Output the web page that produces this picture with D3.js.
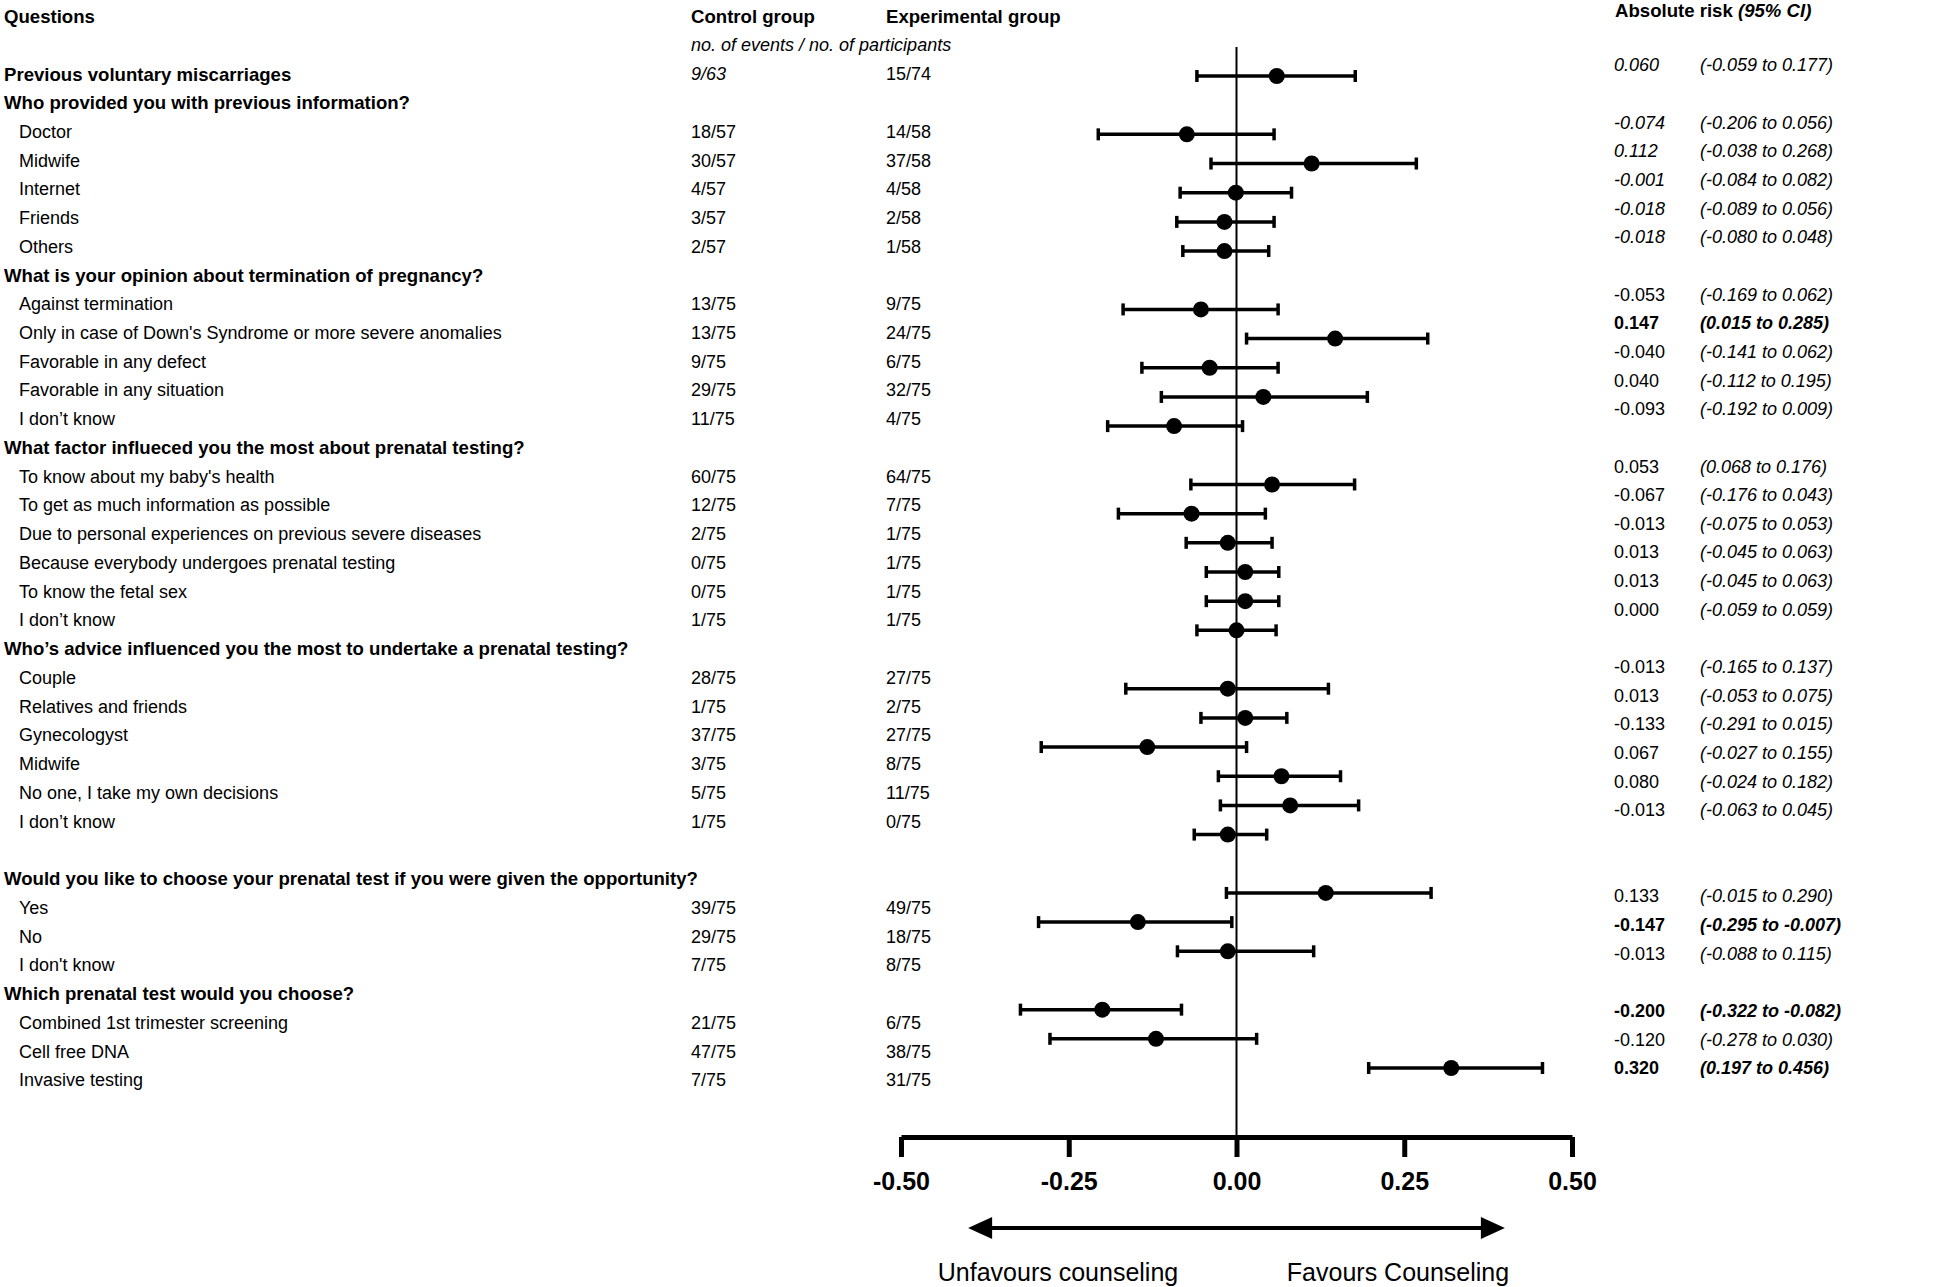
<!DOCTYPE html>
<html>
<head>
<meta charset="utf-8">
<script src="https://cdn.jsdelivr.net/npm/d3@7"></script>
<style>
  body { margin: 0; background: #fff; }
  svg { display: block; font-family: "Liberation Sans", Arial, sans-serif; }
</style>
</head>
<body>
<div id="container"></div>
<script>
/* DATA */
const labels = [
  "Previous voluntary miscarriages",
  "Who provided you with previous information?",
  "Doctor", "Midwife", "Internet", "Friends", "Others",
  "What is your opinion about termination of pregnancy?",
  "Against termination",
  "Only in case of Down's Syndrome or more severe anomalies",
  "Favorable in any defect", "Favorable in any situation", "I don\u2019t know",
  "What factor influeced you the most about prenatal testing?",
  "To know about my baby's health", "To get as much information as possible",
  "Due to personal experiences on previous severe diseases",
  "Because everybody undergoes prenatal testing", "To know the fetal sex", "I don\u2019t know",
  "Who\u2019s advice influenced you the most to undertake a prenatal testing?",
  "Couple", "Relatives and friends", "Gynecologyst", "Midwife",
  "No one, I take my own decisions", "I don\u2019t know",
  "Would you like to choose your prenatal test if you were given the opportunity?",
  "Yes", "No", "I don't know",
  "Which prenatal test would you choose?",
  "Combined 1st trimester screening", "Cell free DNA", "Invasive testing"
];
const headerRows = [0, 1, 7, 13, 20, 27, 31];

const controlGroup = [
  "9/63", "", "18/57", "30/57", "4/57", "3/57", "2/57",
  "", "13/75", "13/75", "9/75", "29/75", "11/75",
  "", "60/75", "12/75", "2/75", "0/75", "0/75", "1/75",
  "", "28/75", "1/75", "37/75", "3/75", "5/75", "1/75",
  "", "39/75", "29/75", "7/75",
  "", "21/75", "47/75", "7/75"
];
const experimentalGroup = [
  "15/74", "", "14/58", "37/58", "4/58", "2/58", "1/58",
  "", "9/75", "24/75", "6/75", "32/75", "4/75",
  "", "64/75", "7/75", "1/75", "1/75", "1/75", "1/75",
  "", "27/75", "2/75", "27/75", "8/75", "11/75", "0/75",
  "", "49/75", "18/75", "8/75",
  "", "6/75", "38/75", "31/75"
];

// absolute risk and 95% CI (plotted)
const estimate = [
  0.060, null, -0.074, 0.112, -0.001, -0.018, -0.018,
  null, -0.053, 0.147, -0.040, 0.040, -0.093,
  null, 0.053, -0.067, -0.013, 0.013, 0.013, 0.000,
  null, -0.013, 0.013, -0.133, 0.067, 0.080, -0.013,
  null, 0.133, -0.147, -0.013,
  null, -0.200, -0.120, 0.320
];
const lower = [
  -0.059, null, -0.206, -0.038, -0.084, -0.089, -0.080,
  null, -0.169, 0.015, -0.141, -0.112, -0.192,
  null, -0.068, -0.176, -0.075, -0.045, -0.045, -0.059,
  null, -0.165, -0.053, -0.291, -0.027, -0.024, -0.063,
  null, -0.015, -0.295, -0.088,
  null, -0.322, -0.278, 0.197
];
const upper = [
  0.177, null, 0.056, 0.268, 0.082, 0.056, 0.048,
  null, 0.062, 0.285, 0.062, 0.195, 0.009,
  null, 0.176, 0.043, 0.053, 0.063, 0.063, 0.059,
  null, 0.137, 0.075, 0.015, 0.155, 0.182, 0.045,
  null, 0.290, -0.007, 0.115,
  null, -0.082, 0.030, 0.456
];

// right column text as printed
const riskText = [
  "0.060", "", "-0.074", "0.112", "-0.001", "-0.018", "-0.018",
  "", "-0.053", "0.147", "-0.040", "0.040", "-0.093",
  "", "0.053", "-0.067", "-0.013", "0.013", "0.013", "0.000",
  "", "-0.013", "0.013", "-0.133", "0.067", "0.080", "-0.013",
  "", "0.133", "-0.147", "-0.013",
  "", "-0.200", "-0.120", "0.320"
];
const ciText = [
  "(-0.059 to 0.177)", "", "(-0.206 to 0.056)", "(-0.038 to 0.268)", "(-0.084 to 0.082)",
  "(-0.089 to 0.056)", "(-0.080 to 0.048)",
  "", "(-0.169 to 0.062)", "(0.015 to 0.285)", "(-0.141 to 0.062)", "(-0.112 to 0.195)",
  "(-0.192 to 0.009)",
  "", "(0.068 to 0.176)", "(-0.176 to 0.043)", "(-0.075 to 0.053)", "(-0.045 to 0.063)",
  "(-0.045 to 0.063)", "(-0.059 to 0.059)",
  "", "(-0.165 to 0.137)", "(-0.053 to 0.075)", "(-0.291 to 0.015)", "(-0.027 to 0.155)",
  "(-0.024 to 0.182)", "(-0.063 to 0.045)",
  "", "(-0.015 to 0.290)", "(-0.295 to -0.007)", "(-0.088 to 0.115)",
  "", "(-0.322 to -0.082)", "(-0.278 to 0.030)", "(0.197 to 0.456)"
];
const boldRows = [9, 29, 32, 34];
const italicRiskRows = [0, 2, 3, 4, 5, 6];

const tickValues = [-0.5, -0.25, 0, 0.25, 0.5];

/* CONSTANTS */
const width = 1950;
const height = 1287;
const gapBefore = 27;   // blank line in the table before this row
const axisY = 1137;
const boldSize = 18.6;

const rows = labels.map((label, i) => ({
  i,
  t: i + (i >= gapBefore ? 1 : 0),
  label,
  header: headerRows.includes(i),
  control: controlGroup[i],
  experimental: experimentalGroup[i],
  est: estimate[i], lo: lower[i], hi: upper[i],
  risk: riskText[i], ci: ciText[i],
  bold: boldRows.includes(i),
  italicRisk: italicRiskRows.includes(i)
}));

/* SCALES */
const x = d3.scaleLinear().domain([-0.5, 0.5]).range([901, 1572]);
const yText = d3.scaleLinear().domain([0, 35]).range([74, 1080]);    // left table
const yRisk = d3.scaleLinear().domain([0, 35]).range([65, 1068]);    // right table
const yPoint = d3.scaleLinear().domain([0, 34]).range([76, 1068]);   // forest marks

/* SVG */
const svg = d3.select("#container")
  .append("svg")
    .attr("width", width)
    .attr("height", height);

// column headers
const head = svg.append("g").attr("font-size", 18);
head.append("text").attr("x", 4).attr("y", 16).attr("dy", "0.35em")
  .attr("font-weight", "bold").attr("font-size", boldSize).text("Questions");
head.append("text").attr("x", 691).attr("y", 16).attr("dy", "0.35em")
  .attr("font-weight", "bold").attr("font-size", boldSize).text("Control group");
head.append("text").attr("x", 886).attr("y", 16).attr("dy", "0.35em")
  .attr("font-weight", "bold").attr("font-size", boldSize).text("Experimental group");
head.append("text").attr("x", 691).attr("y", 45).attr("dy", "0.35em")
  .attr("font-style", "italic").text("no. of events / no. of participants");
const arHead = head.append("text").attr("x", 1615).attr("y", 10).attr("dy", "0.35em")
  .attr("font-weight", "bold").attr("font-size", boldSize);
arHead.append("tspan").text("Absolute risk  ");
arHead.append("tspan").attr("font-style", "italic").text("(95% CI)");

// left table
const table = svg.append("g").attr("font-size", 18);
table.selectAll("text.q")
  .data(rows)
  .join("text")
    .attr("class", "q")
    .attr("x", d => d.header ? 4 : 19)
    .attr("y", d => yText(d.t))
    .attr("dy", "0.35em")
    .attr("font-weight", d => d.header ? "bold" : "normal")
    .attr("font-size", d => d.header ? boldSize : 18)
    .text(d => d.label);

table.selectAll("text.ctrl")
  .data(rows.filter(d => d.control))
  .join("text")
    .attr("class", "ctrl")
    .attr("x", 691)
    .attr("y", d => yText(d.t))
    .attr("dy", "0.35em")
    .attr("font-style", d => d.i === 0 ? "italic" : "normal")
    .text(d => d.control);

table.selectAll("text.exp")
  .data(rows.filter(d => d.experimental))
  .join("text")
    .attr("class", "exp")
    .attr("x", 886)
    .attr("y", d => yText(d.t))
    .attr("dy", "0.35em")
    .text(d => d.experimental);

// right table
const right = svg.append("g").attr("font-size", 18);
right.selectAll("text.ar")
  .data(rows.filter(d => d.risk))
  .join("text")
    .attr("class", "ar")
    .attr("x", 1614)
    .attr("y", d => yRisk(d.t))
    .attr("dy", "0.35em")
    .attr("font-weight", d => d.bold ? "bold" : "normal")
    .attr("font-style", d => d.italicRisk ? "italic" : "normal")
    .text(d => d.risk);

right.selectAll("text.ci")
  .data(rows.filter(d => d.ci))
  .join("text")
    .attr("class", "ci")
    .attr("x", 1700)
    .attr("y", d => yRisk(d.t))
    .attr("dy", "0.35em")
    .attr("font-weight", d => d.bold ? "bold" : "normal")
    .attr("font-style", "italic")
    .text(d => d.ci);

// zero line
svg.append("line")
  .attr("x1", x(0)).attr("x2", x(0))
  .attr("y1", 47).attr("y2", axisY)
  .attr("stroke", "#000")
  .attr("stroke-width", 2);

// forest marks
const marks = svg.append("g")
  .selectAll("g")
  .data(rows.filter(d => d.est !== null))
  .join("g")
    .attr("transform", d => `translate(0,${yPoint(d.i)})`);

marks.append("line")
  .attr("x1", d => x(d.lo)).attr("x2", d => x(d.hi))
  .attr("stroke", "#000").attr("stroke-width", 3.5);
marks.append("line")
  .attr("x1", d => x(d.lo)).attr("x2", d => x(d.lo))
  .attr("y1", -6).attr("y2", 6)
  .attr("stroke", "#000").attr("stroke-width", 3.5);
marks.append("line")
  .attr("x1", d => x(d.hi)).attr("x2", d => x(d.hi))
  .attr("y1", -6).attr("y2", 6)
  .attr("stroke", "#000").attr("stroke-width", 3.5);
marks.append("circle")
  .attr("cx", d => x(d.est))
  .attr("r", 8)
  .attr("fill", "#000");

// x axis
const axis = svg.append("g")
  .attr("transform", `translate(0,${axisY})`)
  .call(d3.axisBottom(x)
    .tickValues(tickValues)
    .tickFormat(d => d.toFixed(2))
    .tickSize(20)
    .tickSizeOuter(0)
    .tickPadding(15));
axis.select(".domain").attr("stroke-width", 5);
axis.selectAll(".tick line").attr("stroke-width", 5);
axis.selectAll(".tick text")
  .attr("font-family", "'Liberation Sans', Arial, sans-serif")
  .attr("font-size", 25)
  .attr("font-weight", "bold")
  .attr("fill", "#000");

// direction arrow
const arrowY = 1228;
const head_len = 24, head_half = 11;
const ax0 = x(-0.4), ax1 = x(0.4);
svg.append("line")
  .attr("x1", ax0 + head_len - 2).attr("x2", ax1 - head_len + 2)
  .attr("y1", arrowY).attr("y2", arrowY)
  .attr("stroke", "#000").attr("stroke-width", 4);
svg.append("path")
  .attr("d", `M${ax0},${arrowY}L${ax0 + head_len},${arrowY - head_half}L${ax0 + head_len},${arrowY + head_half}Z`)
  .attr("fill", "#000");
svg.append("path")
  .attr("d", `M${ax1},${arrowY}L${ax1 - head_len},${arrowY - head_half}L${ax1 - head_len},${arrowY + head_half}Z`)
  .attr("fill", "#000");

svg.append("text")
  .attr("x", 1058).attr("y", 1272).attr("dy", "0.35em")
  .attr("text-anchor", "middle").attr("font-size", 25)
  .text("Unfavours counseling");
svg.append("text")
  .attr("x", 1398).attr("y", 1272).attr("dy", "0.35em")
  .attr("text-anchor", "middle").attr("font-size", 25)
  .text("Favours Counseling");
</script>
</body>
</html>
